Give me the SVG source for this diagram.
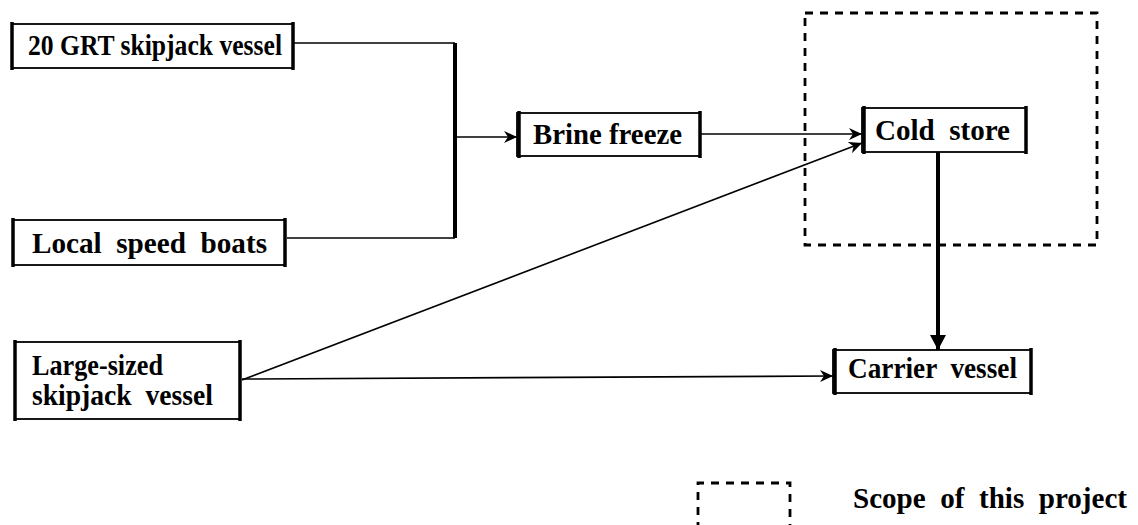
<svg xmlns="http://www.w3.org/2000/svg" width="1138" height="525" viewBox="0 0 1138 525">
  <style>
    .box { fill: #fff; stroke: #000; stroke-width: 1.8; }
    .side { stroke: #000; stroke-width: 3.5; }
    .label { font-family: "Liberation Serif", "Times New Roman", serif; font-weight: bold; font-size: 29px; fill: #000; }
    .thin { fill: none; stroke: #000; stroke-width: 1.6; }
    .thick { fill: none; stroke: #000; stroke-width: 4; }
    .scope { fill: none; stroke: #000; stroke-width: 2.8; stroke-dasharray: 8 7; }
  </style>
  <defs>
    <marker id="arrow" markerUnits="userSpaceOnUse" markerWidth="14" markerHeight="12" refX="13" refY="6" orient="auto">
      <path d="M0,0 L13,6 L0,12 L4,6 Z" fill="#000"/>
    </marker>
    <marker id="arrow-big" markerUnits="userSpaceOnUse" markerWidth="16" markerHeight="16" refX="15" refY="8" orient="auto">
      <path d="M0,0 L15,8 L0,16 Z" fill="#000"/>
    </marker>
  </defs>

  <rect width="1138" height="525" fill="#fff"/>

  <!-- project scope boundary -->
  <rect class="scope" x="805" y="13" width="292" height="232"/>

  <!-- connectors -->
  <g id="connectors">
    <path class="thin" d="M293,43 H455"/>
    <path class="thin" d="M287,238 H455"/>
    <path class="thick" d="M455,43 V238" stroke-width="3.5"/>
    <path class="thin" d="M455,137 H517" marker-end="url(#arrow)"/>
    <path class="thin" d="M700,134 H862" marker-end="url(#arrow)"/>
    <path class="thin" d="M242,380 L862,143" marker-end="url(#arrow)"/>
    <path class="thin" d="M242,379 L833,376" marker-end="url(#arrow)"/>
    <path class="thick" d="M938,152 V350" marker-end="url(#arrow-big)"/>
  </g>

  <g id="grt-vessel">
    <rect class="box" x="12" y="24" width="281" height="44"/>
    <line class="side" x1="12" y1="22" x2="12" y2="70"/>
    <line class="side" x1="293" y1="22" x2="293" y2="70"/>
    <text class="label" x="28" y="55" textLength="254" lengthAdjust="spacingAndGlyphs">20 GRT skipjack vessel</text>
  </g>

  <g id="speed-boats">
    <rect class="box" x="13" y="220" width="272" height="45"/>
    <line class="side" x1="13" y1="218" x2="13" y2="267"/>
    <line class="side" x1="285" y1="218" x2="285" y2="267"/>
    <text class="label" x="32" y="253" xml:space="preserve" textLength="235" lengthAdjust="spacingAndGlyphs">Local  speed  boats</text>
  </g>

  <g id="brine-freeze">
    <rect class="box" x="517" y="113" width="183" height="43"/>
    <line class="side" x1="519" y1="111" x2="519" y2="158"/>
    <line class="side" x1="700" y1="111" x2="700" y2="158"/>
    <text class="label" x="533" y="144" textLength="149" lengthAdjust="spacingAndGlyphs">Brine freeze</text>
  </g>

  <g id="cold-store">
    <rect class="box" x="862" y="108" width="164" height="44"/>
    <line class="side" x1="864" y1="106" x2="864" y2="154"/>
    <line class="side" x1="1026" y1="106" x2="1026" y2="154"/>
    <text class="label" x="875" y="140" xml:space="preserve" textLength="135" lengthAdjust="spacingAndGlyphs">Cold  store</text>
  </g>

  <g id="large-vessel">
    <rect class="box" x="15" y="342" width="225" height="77"/>
    <line class="side" x1="15" y1="340" x2="15" y2="421"/>
    <line class="side" x1="240" y1="340" x2="240" y2="421"/>
    <text class="label" x="32" y="375" textLength="131" lengthAdjust="spacingAndGlyphs">Large-sized</text>
    <text class="label" x="32" y="405" xml:space="preserve" textLength="181" lengthAdjust="spacingAndGlyphs">skipjack  vessel</text>
  </g>

  <g id="carrier-vessel">
    <rect class="box" x="833" y="350" width="198" height="43"/>
    <line class="side" x1="835" y1="348" x2="835" y2="395"/>
    <line class="side" x1="1031" y1="348" x2="1031" y2="395"/>
    <text class="label" x="848" y="378" xml:space="preserve" textLength="169" lengthAdjust="spacingAndGlyphs">Carrier  vessel</text>
  </g>

  <!-- legend -->
  <g id="legend">
    <path class="scope" d="M698,530 V483 H790 V530"/>
    <text class="label" x="853" y="508" font-size="23" xml:space="preserve" textLength="274" lengthAdjust="spacingAndGlyphs">Scope  of  this  project</text>
  </g>
</svg>
